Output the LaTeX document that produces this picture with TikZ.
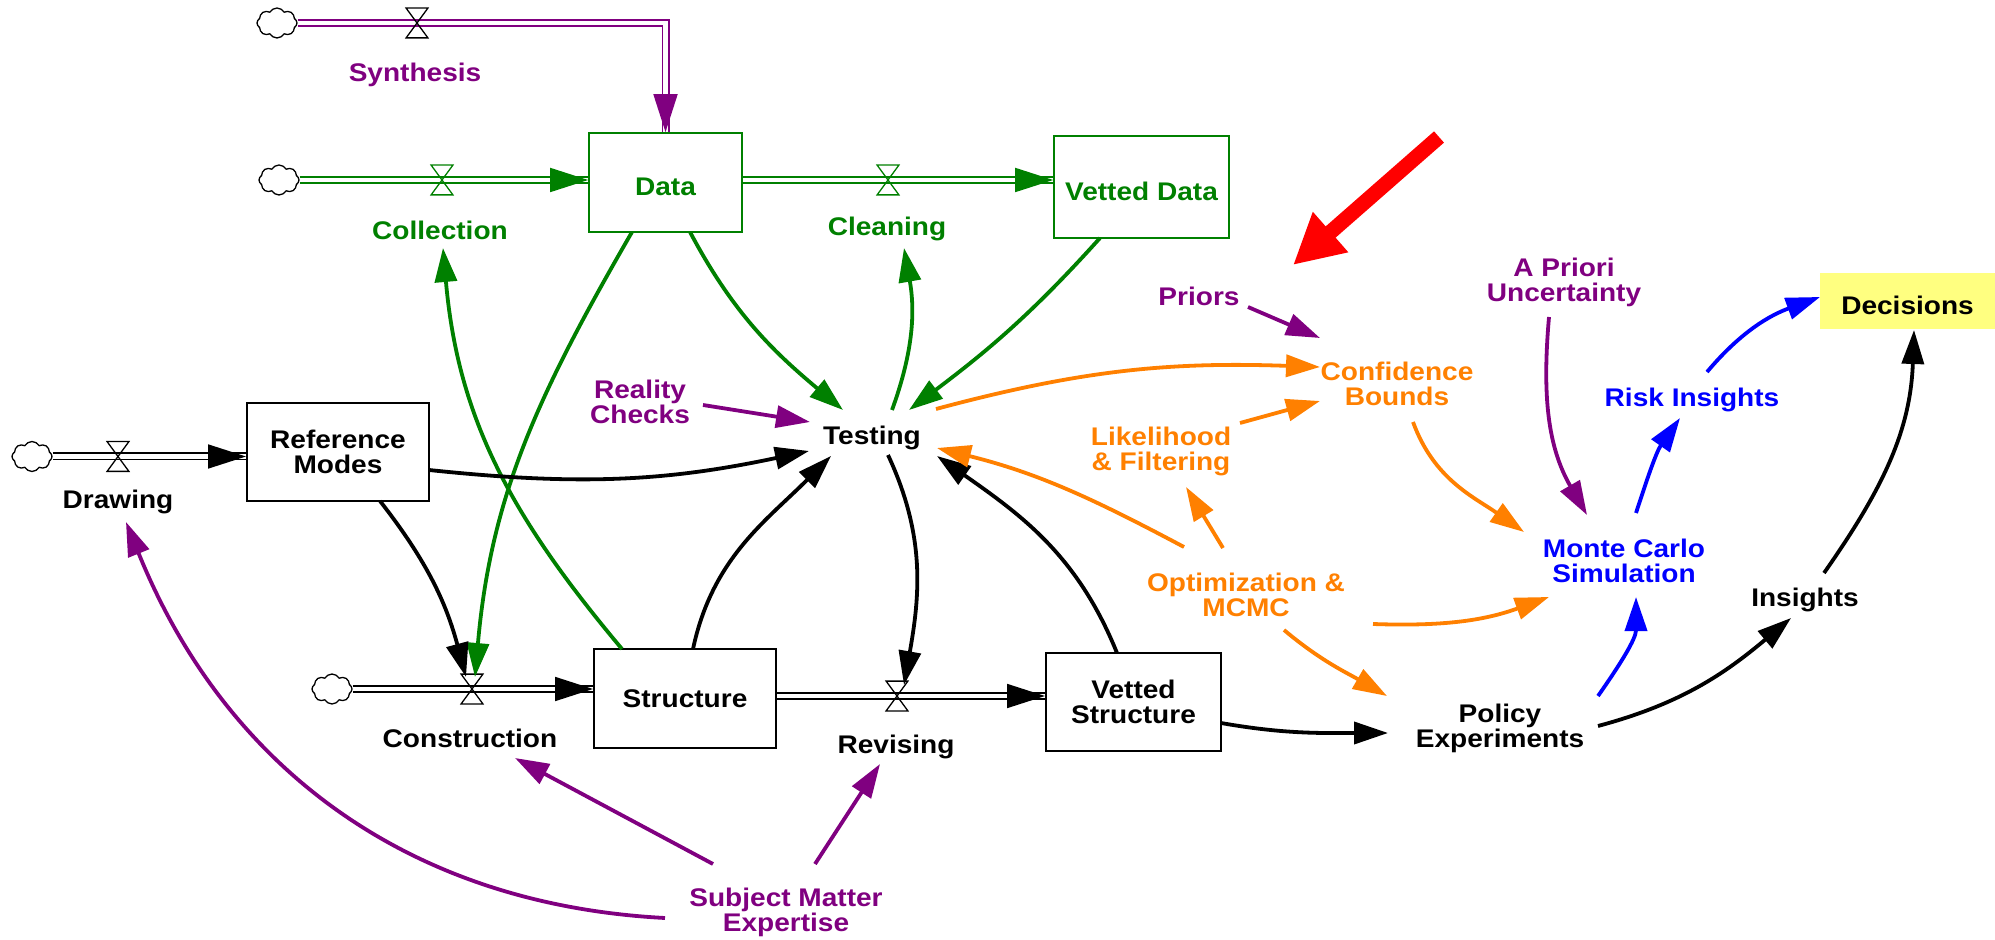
\documentclass[tikz,border=0pt]{standalone}
\usepackage{fontspec}
\setmainfont{Liberation Sans}[FakeStretch=1.1]
\usetikzlibrary{arrows.meta,calc,shapes.symbols}
\definecolor{vgreen}{RGB}{0,128,0}
\definecolor{vpurple}{RGB}{128,0,128}
\definecolor{vorange}{RGB}{255,128,0}
\definecolor{vblue}{RGB}{0,0,255}
\definecolor{vred}{RGB}{255,0,0}
\definecolor{vyellow}{RGB}{255,255,128}
\tikzset{
  every node/.style={font=\bfseries\fontsize{12.75}{12.5}\selectfont},
  lbl/.style={inner sep=0pt, align=center},
  stock/.style={draw, line width=1pt, inner sep=0pt, align=center},
  gstock/.style={stock, draw=vgreen, line width=0.85pt, text=vgreen},
  lowtext/.style={text height=13.5pt, text depth=0pt},
  conn/.style={line width=1.9pt, -{Triangle[length=17pt,width=11pt]}},
  pipe/.style={line width=0.9pt, double=white, double distance=2.2pt},
  pipehead/.style={line width=0.9pt, -{Triangle[length=19pt,width=12pt]}},
  valve/.style={inner sep=0pt, minimum width=10.5pt, minimum height=14.5pt},
  srccloud/.style={cloud, cloud puffs=8, cloud puff arc=120, aspect=1.35, draw=black,
    fill=white, line width=0.65pt, minimum width=20pt, minimum height=15pt, inner sep=0pt},
}
\begin{document}
\begin{tikzpicture}[x=0.5pt, y=-0.5pt]
\useasboundingbox (0,0) rectangle (1995,940);
\fill[white] (0,0) rectangle (1995,940);

% stocks
\node[gstock, lowtext, minimum width=76.5pt, minimum height=49.5pt] (data) at (665.5,182.5) {Data};
\node[gstock, lowtext, minimum width=87.5pt, minimum height=51pt] (vdata) at (1141.5,187) {Vetted Data};
\node[stock, minimum width=91pt, minimum height=49pt] (refm) at (338,452) {Reference\\Modes};
\node[stock, minimum width=91pt, minimum height=49.5pt] (struct) at (685,698.5) {Structure};
\node[stock, minimum width=87.5pt, minimum height=49pt] (vstruct) at (1133.5,702) {Vetted\\Structure};
\node[fill=vyellow, lowtext, minimum width=87.5pt, minimum height=28pt, inner sep=0pt] (decis) at (1907.5,301) {Decisions};

% sources
\node[srccloud] (csyn) at (277,23) {};
\node[srccloud] (ccol) at (279,180) {};
\node[srccloud] (cdraw) at (32,456.5) {};
\node[srccloud] (ccon) at (332,689) {};

% valves
\node[valve] (vsyn) at (417,23) {};
\node[valve] (vcol) at (442,180) {};
\node[valve] (vclean) at (888,180) {};
\node[valve] (vdraw) at (118,456.5) {};
\node[valve] (vcon) at (472,689) {};
\node[valve] (vrev) at (897,696) {};

% flow labels and auxiliaries
\node[lbl, text=vpurple] (synth) at (415,75) {Synthesis};
\node[lbl, text=vgreen] (collect) at (440,230) {Collection};
\node[lbl, text=vgreen] (clean) at (887,229) {Cleaning};
\node[lbl] (drawing) at (118,502) {Drawing};
\node[lbl] (construct) at (470,738) {Construction};
\node[lbl] (revising) at (896,747) {Revising};
\node[lbl, text=vpurple] (reality) at (640,402) {Reality\\Checks};
\node[lbl] (testing) at (872,438) {Testing};
\node[lbl, text=vpurple] (sme) at (786,912) {Subject Matter\\Expertise};
\node[lbl, text=vpurple] (priors) at (1199,296) {Priors};
\node[lbl, text=vorange] (conf) at (1397,384) {Confidence\\Bounds};
\node[lbl, text=vorange] (likeli) at (1161,451) {Likelihood\\\& Filtering};
\node[lbl, text=vorange] (optim) at (1246,595) {Optimization \&\\MCMC};
\node[lbl] (policy) at (1500,728) {Policy\\Experiments};
\node[lbl, text=vblue] (mc) at (1624,561) {Monte Carlo\\Simulation};
\node[lbl, text=vblue] (risk) at (1692,400) {Risk Insights};
\node[lbl, text=vpurple] (apriori) at (1564,282) {A Priori\\Uncertainty};
\node[lbl] (insights) at (1805,600) {Insights};

% pipes
\coordinate (synend) at (data.north);
\draw[pipe, vpurple] (csyn.east) -| (synend);
\draw[pipehead, vpurple] ($(synend)+(0,-38)$) -- (synend);

\coordinate (colend) at (vcol -| data.west);
\draw[pipe, vgreen] (ccol.east) -- (colend);
\draw[pipehead, vgreen] ($(colend)+(-38,0)$) -- (colend);

\coordinate (clbeg) at (vclean -| data.east);
\coordinate (clend) at (vclean -| vdata.west);
\draw[pipe, vgreen] (clbeg) -- (clend);
\draw[pipehead, vgreen] ($(clend)+(-38,0)$) -- (clend);

\coordinate (drend) at (vdraw -| refm.west);
\draw[pipe] (cdraw.east) -- (drend);
\draw[pipehead] ($(drend)+(-38,0)$) -- (drend);

\coordinate (coend) at (vcon -| struct.west);
\draw[pipe] (ccon.east) -- (coend);
\draw[pipehead] ($(coend)+(-38,0)$) -- (coend);

\coordinate (rvbeg) at (vrev -| struct.east);
\coordinate (rvend) at (vrev -| vstruct.west);
\draw[pipe] (rvbeg) -- (rvend);
\draw[pipehead] ($(rvend)+(-38,0)$) -- (rvend);

% valve bow ties
\foreach \v/\c in {vsyn/black, vcol/vgreen, vclean/vgreen, vdraw/black, vcon/black, vrev/black}
  \draw[\c, line width=0.65pt, line join=miter]
    (\v.north west) -- (\v.north east) -- (\v.south west) -- (\v.south east) -- cycle;

% green links
\draw[conn, vgreen] ($(data)+(-33.5,49.5)$) to[out=-120,in=85] ($(vcon)+(3,-12)$);
\draw[conn, vgreen] ($(struct)+(-63,-49.5)$) to[out=130,in=-85] ($(collect)+(3,18)$);
\draw[conn, vgreen] ($(data)+(24.5,49.5)$) to[out=-62,in=140] ($(testing)+(-29,-28)$);
\draw[conn, vgreen] ($(testing)+(20,-28)$) to[out=70,in=-80] ($(clean)+(17,19)$);
\draw[conn, vgreen] ($(vdata)+(-41.5,51)$) to[out=-132,in=37] ($(testing)+(37,-28)$);

% black links
\draw[conn] ($(refm)+(91,18)$) to[out=-6,in=192] ($(testing)+(-63,13)$);
\draw[conn] ($(refm)+(42,49)$) to[out=-52,in=105] ($(vcon)+(-6,-12)$);
\draw[conn] ($(struct)+(8,-49.5)$) to[out=78,in=-135] ($(testing)+(-41,18)$);
\draw[conn] ($(testing)+(16,17)$) to[out=-65,in=80] ($(vrev)+(7,-11)$);
\draw[conn] ($(vstruct)+(-16.5,-49)$) to[out=112,in=-35] ($(testing)+(65,18)$);
\draw[conn] ($(vstruct)+(87.5,21)$) to[out=-10,in=180] ($(policy)+(-112,5)$);
\draw[conn] ($(policy)+(98,-2)$) to[out=15,in=-140] ($(insights)+(-14,18)$);
\draw[conn] ($(insights)+(19,-27)$) to[out=55,in=-92] ($(decis)+(6.5,29)$);

% orange links
\draw[conn, vorange] ($(testing)+(64,-29)$) to[out=15,in=178] ($(conf)+(-77,-17)$);
\draw[conn, vorange] ($(optim)+(-62,-48)$) to[out=152,in=-14] ($(testing)+(65,10)$);
\draw[conn, vorange] ($(optim)+(-23,-47)$) -- ($(likeli)+(25,36)$);
\draw[conn, vorange] ($(likeli)+(79,-28)$) -- ($(conf)+(-77,17)$);
\draw[conn, vorange] ($(conf)+(16,38)$) to[out=-70,in=145] ($(mc)+(-100,-29)$);
\draw[conn, vorange] ($(optim)+(127,29)$) to[out=-2,in=200] ($(mc)+(-75,36)$);
\draw[conn, vorange] ($(optim)+(38,35)$) to[out=-40,in=150] ($(policy)+(-113,-32)$);

% purple links
\draw[conn, vpurple] ($(reality)+(63,3)$) -- ($(testing)+(-62,-16)$);
\draw[conn, vpurple] ($(priors)+(49,11)$) -- ($(conf)+(-77,-46)$);
\draw[conn, vpurple] ($(apriori)+(-15,35)$) to[out=-95,in=120] ($(mc)+(-37,-46)$);
\draw[conn, vpurple] ($(sme)+(-73,-48)$) -- ($(construct)+(45,20)$);
\draw[conn, vpurple] ($(sme)+(29,-48)$) -- ($(revising)+(-16,17)$);
\draw[conn, vpurple] ($(sme)+(-121,6)$) to[out=177,in=-68] ($(drawing)+(8,20)$);

% blue links
\draw[conn, vblue] ($(mc)+(12,-48)$) to[out=72,in=-125] ($(risk)+(-12,18)$);
\draw[conn, vblue] ($(risk)+(15,-28)$) to[out=50,in=-160] ($(decis)+(-87.5,-4)$);
\draw[conn, vblue] ($(policy)+(98,-32)$) to[out=55,in=-90] ($(mc)+(12,36)$);

% pointer
\coordinate (redtail) at (1439,137);
\coordinate (redtip) at (1293,265);
\draw[vred, line width=7.5pt, -{Triangle[length=25pt,width=25pt]}] (redtail) -- (redtip);
\end{tikzpicture}
\end{document}
